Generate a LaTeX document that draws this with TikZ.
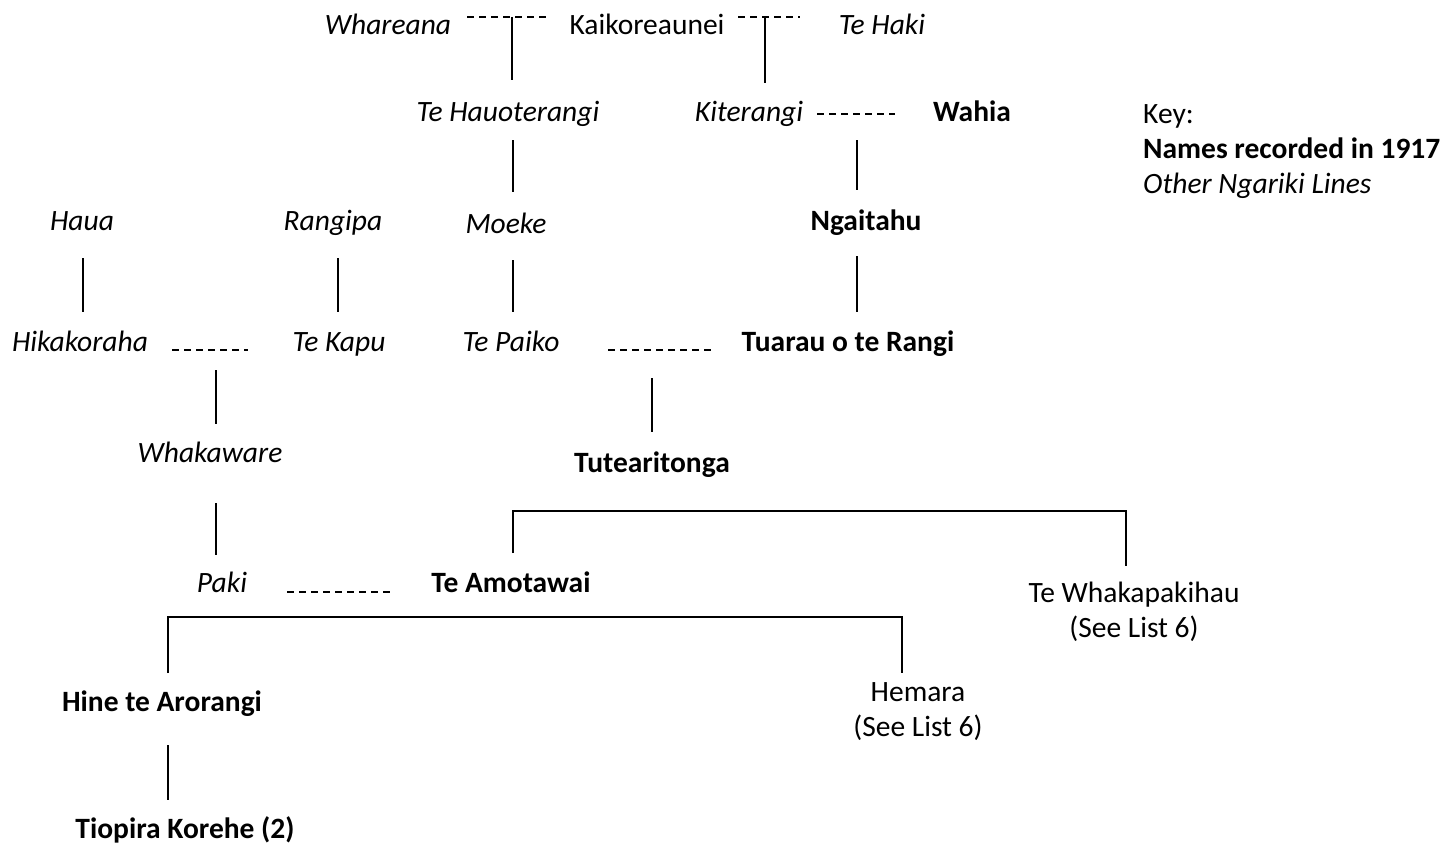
\documentclass[tikz,border=0pt]{standalone}
\usepackage{fontspec}
\setmainfont{Carlito}
\begin{document}
\begin{tikzpicture}[x=1pt,y=-1pt,
  every node/.style={inner sep=0pt, anchor=base},
  plain/.style={font=\fontsize{29.5}{35}\selectfont},
  other/.style={font=\fontsize{29.5}{35}\selectfont\itshape},
  rec/.style={font=\fontsize{29.5}{35}\selectfont\bfseries},
  narrow/.style={font=\fontsize{29.5}{35}\selectfont, align=center, anchor=center},
  link/.style={line width=1.6pt},
  marr/.style={line width=1.4pt, dash pattern=on 7pt off 5pt},
]
\useasboundingbox (0,0) rectangle (1440,843);

% generation 1
\node[other] (whareana) at (388,35) {Whareana};
\node[plain] (kaik) at (647,35) {Kaikoreaunei};
\node[other] (tehaki) at (882,35) {Te Haki};
% generation 2
\node[other] (hauoterangi) at (508,121) {Te Hauoterangi};
\node[other] (kiterangi) at (749,121) {Kiterangi};
\node[rec] (wahia) at (972,121) {Wahia};
% key
\node[plain, anchor=base west] (key) at (1143,123) {Key:};
\node[rec, anchor=base west] (keyrec) at (1143,158) {Names recorded in 1917};
\node[other, anchor=base west] (keyoth) at (1143,193) {Other Ngariki Lines};
% generation 3
\node[other] (haua) at (82,230) {Haua};
\node[other] (rangipa) at (333,230) {Rangipa};
\node[other] (moeke) at (506,233) {Moeke};
\node[rec] (ngaitahu) at (866,230) {Ngaitahu};
% generation 4
\node[other] (hika) at (80,351) {Hikakoraha};
\node[other] (tekapu) at (339,351) {Te Kapu};
\node[other] (tepaiko) at (511,351) {Te Paiko};
\node[rec] (tuarau) at (848,351) {Tuarau o te Rangi};
% generation 5
\node[other] (whakaware) at (210,462) {Whakaware};
\node[rec] (tutea) at (652,472) {Tutearitonga};
% generation 6
\node[other] (paki) at (222,592) {Paki};
\node[rec] (amotawai) at (511,592) {Te Amotawai};
\node[narrow] (whakapakihau) at (1134,612) {Te Whakapakihau\\(See List 6)};
% generation 7
\node[rec] (hine) at (162,711) {Hine te Arorangi};
\node[narrow] (hemara) at (918,712) {Hemara\\(See List 6)};
% generation 8
\node[rec] (tiopira) at (185,838) {Tiopira Korehe (2)};

% marriage links and descent lines
\coordinate (m1a) at (467,17); \coordinate (m1b) at (547,17);
\coordinate (m1) at (512,17); \coordinate (d1) at (512,80);
\draw[marr] (m1a) -- (m1b);
\draw[link] (m1) -- (d1);

\coordinate (m2a) at (738,17); \coordinate (m2b) at (800,17);
\coordinate (m2) at (765,17); \coordinate (d2) at (765,83);
\draw[marr] (m2a) -- (m2b);
\draw[link] (m2) -- (d2);

\coordinate (m3a) at (817,114); \coordinate (m3b) at (895,114);
\coordinate (u3) at (857,140); \coordinate (d3) at (857,190);
\draw[marr] (m3a) -- (m3b);
\draw[link] (u3) -- (d3);

\coordinate (u4) at (513,140); \coordinate (d4) at (513,192);
\draw[link] (u4) -- (d4);

\coordinate (u5) at (83,258); \coordinate (d5) at (83,312);
\coordinate (u6) at (338,258); \coordinate (d6) at (338,312);
\coordinate (u7) at (513,260); \coordinate (d7) at (513,312);
\coordinate (u8) at (857,256); \coordinate (d8) at (857,312);
\draw[link] (u5) -- (d5);
\draw[link] (u6) -- (d6);
\draw[link] (u7) -- (d7);
\draw[link] (u8) -- (d8);

\coordinate (m9a) at (172,350); \coordinate (m9b) at (248,350);
\coordinate (u9) at (216,370); \coordinate (d9) at (216,424);
\draw[marr] (m9a) -- (m9b);
\draw[link] (u9) -- (d9);

\coordinate (m10a) at (608,350); \coordinate (m10b) at (712,350);
\coordinate (u10) at (652,378); \coordinate (d10) at (652,432);
\draw[marr] (m10a) -- (m10b);
\draw[link] (u10) -- (d10);

\coordinate (u11) at (216,503); \coordinate (d11) at (216,555);
\draw[link] (u11) -- (d11);

\coordinate (b1a) at (513,553); \coordinate (b1b) at (1126,566);
\draw[link] (b1a) -- (513,511) -- (1126,511) -- (b1b);

\coordinate (m12a) at (287,592); \coordinate (m12b) at (392,592);
\draw[marr] (m12a) -- (m12b);

\coordinate (b2a) at (168,673); \coordinate (b2b) at (902,673);
\draw[link] (b2a) -- (168,617) -- (902,617) -- (b2b);

\coordinate (u13) at (168,745); \coordinate (d13) at (168,800);
\draw[link] (u13) -- (d13);
\end{tikzpicture}
\end{document}
